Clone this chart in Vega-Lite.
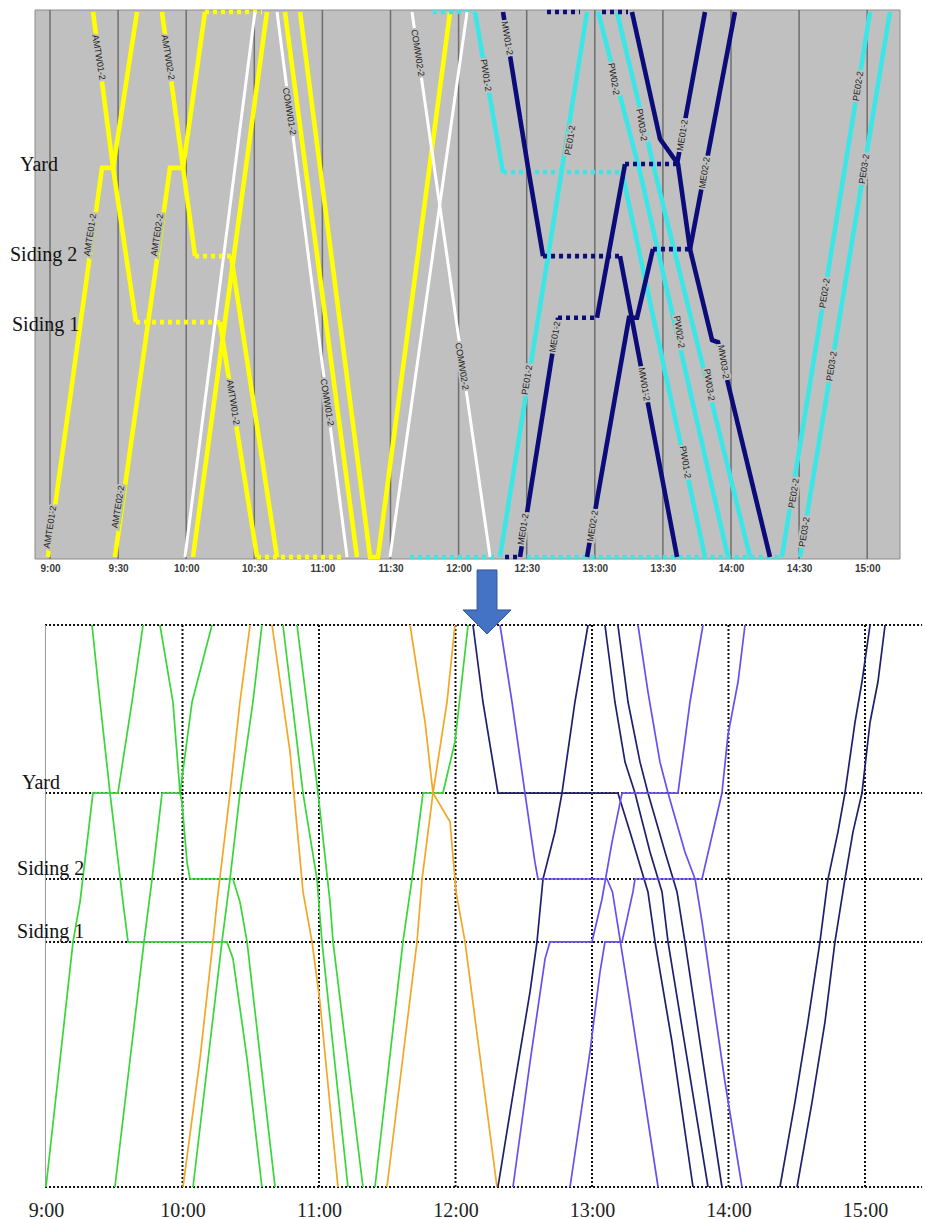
{
  "$schema": "https://vega.github.io/schema/vega-lite/v6.json",
  "padding": {"left": 0, "top": 2, "right": 0, "bottom": 0},
  "bounds": "flush",
  "spacing": 66,
  "background": "white",
  "config": {"view": {"stroke": null}},
  "resolve": {"scale": {"x": "independent", "y": "independent", "color": "independent", "strokeDash": "independent"}},
  "datasets": {
    "top": [
      {"id":"a1","g":"AMT","s":"run","t":8.985,"v":0},{"id":"a1","g":"AMT","s":"run","t":9.382,"v":71.4},{"id":"a1","g":"AMT","s":"run","t":9.463,"v":71.4},{"id":"a1","g":"AMT","s":"run","t":9.639,"v":100},
      {"id":"a2","g":"AMT","s":"run","t":9.477,"v":0},{"id":"a2","g":"AMT","s":"run","t":9.881,"v":71.4},{"id":"a2","g":"AMT","s":"run","t":9.977,"v":71.4},{"id":"a2","g":"AMT","s":"run","t":10.138,"v":100},
      {"id":"a2d","g":"AMT","s":"dwell","t":10.138,"v":100},{"id":"a2d","g":"AMT","s":"dwell","t":10.557,"v":100},
      {"id":"a3a","g":"AMT","s":"run","t":9.316,"v":100},{"id":"a3a","g":"AMT","s":"run","t":9.463,"v":71.4},{"id":"a3a","g":"AMT","s":"run","t":9.631,"v":43.1},
      {"id":"a3b","g":"AMT","s":"dwell","t":9.631,"v":43.1},{"id":"a3b","g":"AMT","s":"dwell","t":10.248,"v":43.1},
      {"id":"a3c","g":"AMT","s":"run","t":10.248,"v":43.1},{"id":"a3c","g":"AMT","s":"run","t":10.520,"v":0},
      {"id":"a3d","g":"AMT","s":"dwell","t":10.520,"v":0},{"id":"a3d","g":"AMT","s":"dwell","t":11.151,"v":0},
      {"id":"a4a","g":"AMT","s":"run","t":9.822,"v":100},{"id":"a4a","g":"AMT","s":"run","t":9.977,"v":71.4},{"id":"a4a","g":"AMT","s":"run","t":10.065,"v":55.2},
      {"id":"a4b","g":"AMT","s":"dwell","t":10.065,"v":55.2},{"id":"a4b","g":"AMT","s":"dwell","t":10.330,"v":55.2},
      {"id":"a4c","g":"AMT","s":"run","t":10.330,"v":55.2},{"id":"a4c","g":"AMT","s":"run","t":10.667,"v":0},
      {"id":"a5","g":"AMT","s":"run","t":10.050,"v":0},{"id":"a5","g":"AMT","s":"run","t":10.593,"v":100},
      {"id":"a6","g":"AMT","s":"run","t":10.725,"v":100},{"id":"a6","g":"AMT","s":"run","t":11.254,"v":0},
      {"id":"a7","g":"AMT","s":"run","t":10.836,"v":100},{"id":"a7","g":"AMT","s":"run","t":11.350,"v":0},{"id":"a7","g":"AMT","s":"run","t":11.408,"v":0},{"id":"a7","g":"AMT","s":"run","t":11.937,"v":100},
      {"id":"c1","g":"COM","s":"run","t":9.991,"v":0},{"id":"c1","g":"COM","s":"run","t":10.505,"v":100},
      {"id":"c2","g":"COM","s":"run","t":10.667,"v":100},{"id":"c2","g":"COM","s":"run","t":11.181,"v":0},
      {"id":"c3","g":"COM","s":"run","t":11.496,"v":0},{"id":"c3","g":"COM","s":"run","t":12.062,"v":100},
      {"id":"c4","g":"COM","s":"run","t":11.658,"v":100},{"id":"c4","g":"COM","s":"run","t":12.231,"v":0},
      {"id":"p7","g":"P","s":"dwell","t":12.500,"v":0},{"id":"p7","g":"P","s":"dwell","t":14.374,"v":0},
      {"id":"p1a","g":"P","s":"dwell","t":11.812,"v":100},{"id":"p1a","g":"P","s":"dwell","t":12.120,"v":100},
      {"id":"p1b","g":"P","s":"run","t":12.120,"v":100},{"id":"p1b","g":"P","s":"run","t":12.326,"v":70.6},
      {"id":"p1c","g":"P","s":"dwell","t":12.326,"v":70.6},{"id":"p1c","g":"P","s":"dwell","t":13.200,"v":70.6},
      {"id":"p1d","g":"P","s":"run","t":13.200,"v":70.6},{"id":"p1d","g":"P","s":"run","t":13.809,"v":0},
      {"id":"p2a","g":"P","s":"dwell","t":11.643,"v":0},{"id":"p2a","g":"P","s":"dwell","t":12.267,"v":0},
      {"id":"p2b","g":"P","s":"run","t":12.304,"v":0},{"id":"p2b","g":"P","s":"run","t":12.943,"v":100},
      {"id":"p3","g":"P","s":"run","t":13.024,"v":100},{"id":"p3","g":"P","s":"run","t":13.332,"v":70.6},{"id":"p3","g":"P","s":"run","t":13.978,"v":0},
      {"id":"p4","g":"P","s":"run","t":13.163,"v":100},{"id":"p4","g":"P","s":"run","t":13.442,"v":70.6},{"id":"p4","g":"P","s":"run","t":14.140,"v":0},
      {"id":"p5","g":"P","s":"run","t":14.374,"v":0},{"id":"p5","g":"P","s":"run","t":15.021,"v":100},
      {"id":"p6","g":"P","s":"run","t":14.507,"v":0},{"id":"p6","g":"P","s":"run","t":15.167,"v":100},
      {"id":"m1a","g":"M","s":"run","t":12.326,"v":100},{"id":"m1a","g":"M","s":"run","t":12.510,"v":71.4},{"id":"m1a","g":"M","s":"run","t":12.620,"v":55.2},
      {"id":"m1b","g":"M","s":"dwell","t":12.620,"v":55.2},{"id":"m1b","g":"M","s":"dwell","t":13.185,"v":55.2},
      {"id":"m1c","g":"M","s":"run","t":13.185,"v":55.2},{"id":"m1c","g":"M","s":"run","t":13.604,"v":0},
      {"id":"m2a","g":"M","s":"dwell","t":12.341,"v":0},{"id":"m2a","g":"M","s":"dwell","t":12.451,"v":0},
      {"id":"m2b","g":"M","s":"run","t":12.451,"v":0},{"id":"m2b","g":"M","s":"run","t":12.730,"v":43.9},
      {"id":"m2c","g":"M","s":"dwell","t":12.730,"v":43.9},{"id":"m2c","g":"M","s":"dwell","t":13.016,"v":43.9},
      {"id":"m2d","g":"M","s":"run","t":13.016,"v":43.9},{"id":"m2d","g":"M","s":"run","t":13.222,"v":72.1},
      {"id":"m2e","g":"M","s":"dwell","t":13.222,"v":72.1},{"id":"m2e","g":"M","s":"dwell","t":13.604,"v":72.1},
      {"id":"m2f","g":"M","s":"run","t":13.604,"v":72.1},{"id":"m2f","g":"M","s":"run","t":13.809,"v":100},
      {"id":"m3a","g":"M","s":"run","t":12.943,"v":0},{"id":"m3a","g":"M","s":"run","t":13.251,"v":43.9},{"id":"m3a","g":"M","s":"run","t":13.310,"v":43.9},{"id":"m3a","g":"M","s":"run","t":13.427,"v":56.5},
      {"id":"m3b","g":"M","s":"dwell","t":13.427,"v":56.5},{"id":"m3b","g":"M","s":"dwell","t":13.699,"v":56.5},
      {"id":"m3c","g":"M","s":"run","t":13.699,"v":56.5},{"id":"m3c","g":"M","s":"run","t":14.029,"v":100},
      {"id":"m4","g":"M","s":"run","t":13.273,"v":100},{"id":"m4","g":"M","s":"run","t":13.479,"v":76.7},{"id":"m4","g":"M","s":"run","t":13.611,"v":72.1},{"id":"m4","g":"M","s":"run","t":13.699,"v":56.5},{"id":"m4","g":"M","s":"run","t":13.861,"v":39.8},{"id":"m4","g":"M","s":"run","t":13.905,"v":39.4},{"id":"m4","g":"M","s":"run","t":14.286,"v":0},
      {"id":"m5","g":"M","s":"dwell","t":12.649,"v":100},{"id":"m5","g":"M","s":"dwell","t":12.891,"v":100},
      {"id":"m6","g":"M","s":"dwell","t":13.053,"v":100},{"id":"m6","g":"M","s":"dwell","t":13.244,"v":100}
    ],
    "lab": [
      {"name":"AMTE01-2","d":"up","t":9.000,"v":5.5},{"name":"AMTE01-2","d":"up","t":9.294,"v":59.1},
      {"name":"AMTE02-2","d":"up","t":9.499,"v":9.2},{"name":"AMTE02-2","d":"up","t":9.786,"v":59.1},
      {"name":"PE01-2","d":"up","t":12.502,"v":32.5},{"name":"PE01-2","d":"up","t":12.818,"v":76.5},
      {"name":"ME01-2","d":"up","t":12.473,"v":5.1},{"name":"ME01-2","d":"up","t":12.706,"v":40.4},{"name":"ME01-2","d":"up","t":13.643,"v":77.4},
      {"name":"ME02-2","d":"up","t":12.983,"v":5.7},{"name":"ME02-2","d":"up","t":13.805,"v":70.5},
      {"name":"PE02-2","d":"up","t":14.46,"v":11.7},{"name":"PE02-2","d":"up","t":14.687,"v":48.4},{"name":"PE02-2","d":"up","t":14.933,"v":86.4},
      {"name":"PE03-2","d":"up","t":14.537,"v":4.6},{"name":"PE03-2","d":"up","t":14.738,"v":35.0},{"name":"PE03-2","d":"up","t":14.977,"v":71.2},
      {"name":"AMTW01-2","d":"down","t":9.359,"v":91.7},{"name":"AMTW01-2","d":"down","t":10.345,"v":28.4},
      {"name":"AMTW02-2","d":"down","t":9.867,"v":91.7},
      {"name":"COMW01-2","d":"down","t":10.758,"v":81.8},{"name":"COMW01-2","d":"down","t":11.035,"v":28.4},
      {"name":"COMW02-2","d":"down","t":11.701,"v":92.5},{"name":"COMW02-2","d":"down","t":12.025,"v":35.0},
      {"name":"MW01-2","d":"down","t":12.357,"v":95.2},{"name":"MW01-2","d":"down","t":13.363,"v":31.7},
      {"name":"PW01-2","d":"down","t":12.201,"v":88.4},{"name":"PW01-2","d":"down","t":13.665,"v":17.4},
      {"name":"PW02-2","d":"down","t":13.14,"v":87.7},{"name":"PW02-2","d":"down","t":13.62,"v":41.3},
      {"name":"PW03-2","d":"down","t":13.345,"v":79.3},{"name":"PW03-2","d":"down","t":13.84,"v":31.6},
      {"name":"MW03-2","d":"down","t":13.945,"v":35.8}
    ],
    "st1": [{"name":"Yard","t":8.78,"v":72.0},{"name":"Siding 2","t":8.706,"v":55.4},{"name":"Siding 1","t":8.721,"v":42.6}],
    "st2": [{"name":"Yard","t":8.824,"v":70.1},{"name":"Siding 2","t":8.788,"v":54.8},{"name":"Siding 1","t":8.788,"v":43.6}],
    "grid1": [{"t":9},{"t":9.5},{"t":10},{"t":10.5},{"t":11},{"t":11.5},{"t":12},{"t":12.5},{"t":13},{"t":13.5},{"t":14},{"t":14.5},{"t":15}],
    "vgrid2": [{"t":10},{"t":11},{"t":12},{"t":13},{"t":14},{"t":15}],
    "hgrid2": [{"v":0},{"v":43.6},{"v":54.8},{"v":70.1},{"v":100}],
    "bot": [
      {"id":"g1","g":"AMT","t":9.337,"v":100},{"id":"g1","g":"AMT","t":9.396,"v":86.3},{"id":"g1","g":"AMT","t":9.469,"v":70.1},{"id":"g1","g":"AMT","t":9.564,"v":50.7},{"id":"g1","g":"AMT","t":9.601,"v":43.6},{"id":"g1","g":"AMT","t":10.326,"v":43.6},{"id":"g1","g":"AMT","t":10.370,"v":40.6},{"id":"g1","g":"AMT","t":10.473,"v":22.8},{"id":"g1","g":"AMT","t":10.582,"v":0},
      {"id":"g2","g":"AMT","t":9.000,"v":0},{"id":"g2","g":"AMT","t":9.198,"v":43.6},{"id":"g2","g":"AMT","t":9.249,"v":50.7},{"id":"g2","g":"AMT","t":9.344,"v":70.1},{"id":"g2","g":"AMT","t":9.527,"v":70.1},{"id":"g2","g":"AMT","t":9.630,"v":86.3},{"id":"g2","g":"AMT","t":9.711,"v":100},
      {"id":"g3","g":"AMT","t":9.505,"v":0},{"id":"g3","g":"AMT","t":9.718,"v":43.6},{"id":"g3","g":"AMT","t":9.777,"v":54.8},{"id":"g3","g":"AMT","t":9.850,"v":70.1},{"id":"g3","g":"AMT","t":9.982,"v":70.1},{"id":"g3","g":"AMT","t":10.070,"v":86.3},{"id":"g3","g":"AMT","t":10.216,"v":100},
      {"id":"g4","g":"AMT","t":9.835,"v":100},{"id":"g4","g":"AMT","t":9.930,"v":86.3},{"id":"g4","g":"AMT","t":9.982,"v":70.1},{"id":"g4","g":"AMT","t":9.996,"v":68.5},{"id":"g4","g":"AMT","t":10.033,"v":57.8},{"id":"g4","g":"AMT","t":10.055,"v":54.8},{"id":"g4","g":"AMT","t":10.370,"v":54.8},{"id":"g4","g":"AMT","t":10.421,"v":50.7},{"id":"g4","g":"AMT","t":10.473,"v":43.6},{"id":"g4","g":"AMT","t":10.678,"v":0},
      {"id":"g5","g":"AMT","t":10.077,"v":0},{"id":"g5","g":"AMT","t":10.289,"v":43.6},{"id":"g5","g":"AMT","t":10.348,"v":54.8},{"id":"g5","g":"AMT","t":10.421,"v":70.1},{"id":"g5","g":"AMT","t":10.516,"v":86.3},{"id":"g5","g":"AMT","t":10.582,"v":100},
      {"id":"g6","g":"AMT","t":10.736,"v":100},{"id":"g6","g":"AMT","t":10.883,"v":70.1},{"id":"g6","g":"AMT","t":10.985,"v":54.8},{"id":"g6","g":"AMT","t":11.022,"v":43.6},{"id":"g6","g":"AMT","t":11.212,"v":0},
      {"id":"g7","g":"AMT","t":10.839,"v":100},{"id":"g7","g":"AMT","t":10.993,"v":70.1},{"id":"g7","g":"AMT","t":11.081,"v":50.7},{"id":"g7","g":"AMT","t":11.103,"v":43.6},{"id":"g7","g":"AMT","t":11.322,"v":0},
      {"id":"g8","g":"AMT","t":11.410,"v":0},{"id":"g8","g":"AMT","t":11.615,"v":43.6},{"id":"g8","g":"AMT","t":11.681,"v":54.8},{"id":"g8","g":"AMT","t":11.762,"v":70.1},{"id":"g8","g":"AMT","t":11.908,"v":70.1},{"id":"g8","g":"AMT","t":11.996,"v":79.2},{"id":"g8","g":"AMT","t":12.092,"v":100},
      {"id":"o1","g":"COM","t":10.004,"v":0},{"id":"o1","g":"COM","t":10.128,"v":22.8},{"id":"o1","g":"COM","t":10.223,"v":43.6},{"id":"o1","g":"COM","t":10.253,"v":50.7},{"id":"o1","g":"COM","t":10.348,"v":70.1},{"id":"o1","g":"COM","t":10.421,"v":86.3},{"id":"o1","g":"COM","t":10.495,"v":100},
      {"id":"o2","g":"COM","t":10.656,"v":100},{"id":"o2","g":"COM","t":10.788,"v":77.4},{"id":"o2","g":"COM","t":10.883,"v":52.5},{"id":"o2","g":"COM","t":10.949,"v":43.6},{"id":"o2","g":"COM","t":11.007,"v":32.9},{"id":"o2","g":"COM","t":11.139,"v":0},
      {"id":"o3","g":"COM","t":11.498,"v":0},{"id":"o3","g":"COM","t":11.718,"v":43.6},{"id":"o3","g":"COM","t":11.755,"v":54.8},{"id":"o3","g":"COM","t":11.835,"v":70.1},{"id":"o3","g":"COM","t":11.938,"v":86.3},{"id":"o3","g":"COM","t":11.996,"v":100},
      {"id":"o4","g":"COM","t":11.667,"v":100},{"id":"o4","g":"COM","t":11.777,"v":82.7},{"id":"o4","g":"COM","t":11.835,"v":70.1},{"id":"o4","g":"COM","t":11.960,"v":65.0},{"id":"o4","g":"COM","t":12.004,"v":52.5},{"id":"o4","g":"COM","t":12.070,"v":43.6},{"id":"o4","g":"COM","t":12.304,"v":0},
      {"id":"n1","g":"P","t":12.128,"v":100},{"id":"n1","g":"P","t":12.201,"v":86.3},{"id":"n1","g":"P","t":12.311,"v":70.1},{"id":"n1","g":"P","t":13.190,"v":70.1},{"id":"n1","g":"P","t":13.278,"v":63.2},{"id":"n1","g":"P","t":13.410,"v":52.5},{"id":"n1","g":"P","t":13.462,"v":43.6},{"id":"n1","g":"P","t":13.586,"v":25.8},{"id":"n1","g":"P","t":13.740,"v":0},
      {"id":"n2","g":"P","t":12.311,"v":0},{"id":"n2","g":"P","t":12.436,"v":18.7},{"id":"n2","g":"P","t":12.546,"v":34.7},{"id":"n2","g":"P","t":12.597,"v":43.6},{"id":"n2","g":"P","t":12.641,"v":54.8},{"id":"n2","g":"P","t":12.729,"v":63.2},{"id":"n2","g":"P","t":12.780,"v":70.1},{"id":"n2","g":"P","t":12.875,"v":86.3},{"id":"n2","g":"P","t":12.971,"v":100},
      {"id":"n3","g":"P","t":13.095,"v":100},{"id":"n3","g":"P","t":13.168,"v":86.3},{"id":"n3","g":"P","t":13.242,"v":75.6},{"id":"n3","g":"P","t":13.315,"v":70.1},{"id":"n3","g":"P","t":13.425,"v":59.6},{"id":"n3","g":"P","t":13.513,"v":52.5},{"id":"n3","g":"P","t":13.557,"v":43.6},{"id":"n3","g":"P","t":13.689,"v":24.0},{"id":"n3","g":"P","t":13.850,"v":0},
      {"id":"n4","g":"P","t":13.190,"v":100},{"id":"n4","g":"P","t":13.264,"v":86.3},{"id":"n4","g":"P","t":13.352,"v":75.6},{"id":"n4","g":"P","t":13.410,"v":70.1},{"id":"n4","g":"P","t":13.535,"v":59.6},{"id":"n4","g":"P","t":13.623,"v":52.5},{"id":"n4","g":"P","t":13.681,"v":43.6},{"id":"n4","g":"P","t":13.791,"v":25.8},{"id":"n4","g":"P","t":13.952,"v":0},
      {"id":"n5","g":"P","t":14.377,"v":0},{"id":"n5","g":"P","t":14.487,"v":15.1},{"id":"n5","g":"P","t":14.582,"v":29.4},{"id":"n5","g":"P","t":14.670,"v":43.6},{"id":"n5","g":"P","t":14.729,"v":54.8},{"id":"n5","g":"P","t":14.802,"v":63.2},{"id":"n5","g":"P","t":14.853,"v":70.1},{"id":"n5","g":"P","t":14.927,"v":82.7},{"id":"n5","g":"P","t":14.978,"v":89.9},{"id":"n5","g":"P","t":15.037,"v":100},
      {"id":"n6","g":"P","t":14.502,"v":0},{"id":"n6","g":"P","t":14.612,"v":15.1},{"id":"n6","g":"P","t":14.707,"v":29.4},{"id":"n6","g":"P","t":14.780,"v":43.6},{"id":"n6","g":"P","t":14.853,"v":54.8},{"id":"n6","g":"P","t":14.912,"v":63.2},{"id":"n6","g":"P","t":14.978,"v":70.1},{"id":"n6","g":"P","t":15.037,"v":82.7},{"id":"n6","g":"P","t":15.095,"v":89.9},{"id":"n6","g":"P","t":15.147,"v":100},
      {"id":"m1","g":"M","t":12.326,"v":100},{"id":"m1","g":"M","t":12.414,"v":86.3},{"id":"m1","g":"M","t":12.509,"v":70.1},{"id":"m1","g":"M","t":12.582,"v":57.8},{"id":"m1","g":"M","t":12.604,"v":54.8},{"id":"m1","g":"M","t":13.110,"v":54.8},{"id":"m1","g":"M","t":13.150,"v":52.5},{"id":"m1","g":"M","t":13.278,"v":32.9},{"id":"m1","g":"M","t":13.484,"v":0},
      {"id":"m2","g":"M","t":12.421,"v":0},{"id":"m2","g":"M","t":12.546,"v":22.2},{"id":"m2","g":"M","t":12.656,"v":40.6},{"id":"m2","g":"M","t":12.692,"v":43.6},{"id":"m2","g":"M","t":13.000,"v":43.6},{"id":"m2","g":"M","t":13.073,"v":51.2},{"id":"m2","g":"M","t":13.147,"v":61.4},{"id":"m2","g":"M","t":13.220,"v":70.1},{"id":"m2","g":"M","t":13.630,"v":70.1},{"id":"m2","g":"M","t":13.718,"v":86.3},{"id":"m2","g":"M","t":13.813,"v":100},
      {"id":"m3","g":"M","t":12.839,"v":0},{"id":"m3","g":"M","t":12.985,"v":24.0},{"id":"m3","g":"M","t":13.059,"v":38.3},{"id":"m3","g":"M","t":13.095,"v":43.6},{"id":"m3","g":"M","t":13.220,"v":43.6},{"id":"m3","g":"M","t":13.300,"v":52.5},{"id":"m3","g":"M","t":13.315,"v":54.8},{"id":"m3","g":"M","t":13.806,"v":54.8},{"id":"m3","g":"M","t":13.952,"v":70.1},{"id":"m3","g":"M","t":13.996,"v":80.4},{"id":"m3","g":"M","t":14.070,"v":89.9},{"id":"m3","g":"M","t":14.121,"v":100},
      {"id":"m4","g":"M","t":13.337,"v":100},{"id":"m4","g":"M","t":13.410,"v":88.1},{"id":"m4","g":"M","t":13.498,"v":75.6},{"id":"m4","g":"M","t":13.557,"v":70.1},{"id":"m4","g":"M","t":13.681,"v":59.6},{"id":"m4","g":"M","t":13.755,"v":54.8},{"id":"m4","g":"M","t":13.806,"v":47.2},{"id":"m4","g":"M","t":13.879,"v":34.7},{"id":"m4","g":"M","t":13.974,"v":18.7},{"id":"m4","g":"M","t":14.099,"v":0}
    ],
    "arrow": [{"t":12.231,"v":104.1}]
  },
  "vconcat": [
    {
      "width": 925,
      "height": 549,
      "layer": [
        {
          "data": {"values": [{"t": 8.890, "t2": 15.241, "v": -0.367, "v2": 100.367}]},
          "mark": {"type": "rect", "fill": "#c0c0c0", "stroke": "#8c8c8c", "strokeWidth": 1},
          "encoding": {
            "x": {"field": "t", "type": "quantitative", "scale": {"domain": [8.6329, 15.4244], "nice": false, "zero": false},
                  "axis": {"values": [9, 9.5, 10, 10.5, 11, 11.5, 12, 12.5, 13, 13.5, 14, 14.5, 15], "labelExpr": "floor(datum.value) + ':' + (datum.value % 1 ? '30' : '00')", "grid": false, "domain": false, "ticks": false, "labelFont": "Liberation Sans", "labelFontSize": 10, "labelFontWeight": "bold", "labelColor": "#3a3a3a", "labelPadding": 4, "labelFlush": false, "labelOverlap": false, "title": null}},
            "x2": {"field": "t2"},
            "y": {"field": "v", "type": "quantitative", "scale": {"domain": [-0.367, 100.367], "nice": false, "zero": false}, "axis": null},
            "y2": {"field": "v2"}
          }
        },
        {
          "data": {"name": "grid1"},
          "mark": {"type": "rule", "color": "#6e6e6e", "strokeWidth": 1.5},
          "encoding": {
            "x": {"field": "t", "type": "quantitative", "scale": {"domain": [8.6329, 15.4244], "nice": false, "zero": false}}
          }
        },
        {
          "data": {"name": "top"},
          "transform": [{"filter": "datum.g != 'COM'"}],
          "mark": {"type": "line", "strokeWidth": 4.6, "strokeCap": "butt"},
          "encoding": {
            "x": {"field": "t", "type": "quantitative", "scale": {"domain": [8.6329, 15.4244], "nice": false, "zero": false}},
            "y": {"field": "v", "type": "quantitative", "scale": {"domain": [-0.367, 100.367], "nice": false, "zero": false}, "axis": null},
            "detail": {"field": "id"},
            "color": {"field": "g", "type": "nominal", "scale": {"domain": ["AMT", "COM", "P", "M"], "range": ["#ffff00", "#ffffff", "#3ce6e6", "#0b0b7a"]}, "legend": null},
            "strokeDash": {"field": "s", "type": "nominal", "scale": {"domain": ["run", "dwell"], "range": [[1, 0], [4, 4]]}, "legend": null}
          }
        },
        {
          "data": {"name": "top"},
          "transform": [{"filter": "datum.g == 'COM'"}],
          "mark": {"type": "line", "strokeWidth": 3, "strokeCap": "butt"},
          "encoding": {
            "x": {"field": "t", "type": "quantitative", "scale": {"domain": [8.6329, 15.4244], "nice": false, "zero": false}},
            "y": {"field": "v", "type": "quantitative", "scale": {"domain": [-0.367, 100.367], "nice": false, "zero": false}, "axis": null},
            "detail": {"field": "id"},
            "color": {"field": "g", "type": "nominal", "scale": {"domain": ["AMT", "COM", "P", "M"], "range": ["#ffff00", "#ffffff", "#3ce6e6", "#0b0b7a"]}, "legend": null},
            "strokeDash": {"field": "s", "type": "nominal", "scale": {"domain": ["run", "dwell"], "range": [[1, 0], [4, 4]]}, "legend": null}
          }
        },
        {
          "data": {"name": "lab"},
          "transform": [{"filter": "datum.d == 'up'"}],
          "mark": {"type": "text", "angle": 279, "font": "Liberation Sans", "fontSize": 9, "fill": "#c0c0c0", "stroke": "#c0c0c0", "strokeWidth": 4},
          "encoding": {
            "x": {"field": "t", "type": "quantitative", "scale": {"domain": [8.6329, 15.4244], "nice": false, "zero": false}},
            "y": {"field": "v", "type": "quantitative", "scale": {"domain": [-0.367, 100.367], "nice": false, "zero": false}, "axis": null},
            "text": {"field": "name"}
          }
        },
        {
          "data": {"name": "lab"},
          "transform": [{"filter": "datum.d == 'down'"}],
          "mark": {"type": "text", "angle": 81, "font": "Liberation Sans", "fontSize": 9, "fill": "#c0c0c0", "stroke": "#c0c0c0", "strokeWidth": 4},
          "encoding": {
            "x": {"field": "t", "type": "quantitative", "scale": {"domain": [8.6329, 15.4244], "nice": false, "zero": false}},
            "y": {"field": "v", "type": "quantitative", "scale": {"domain": [-0.367, 100.367], "nice": false, "zero": false}, "axis": null},
            "text": {"field": "name"}
          }
        },
        {
          "data": {"name": "lab"},
          "transform": [{"filter": "datum.d == 'up'"}],
          "mark": {"type": "text", "angle": 279, "font": "Liberation Sans", "fontSize": 9, "color": "#222222"},
          "encoding": {
            "x": {"field": "t", "type": "quantitative", "scale": {"domain": [8.6329, 15.4244], "nice": false, "zero": false}},
            "y": {"field": "v", "type": "quantitative", "scale": {"domain": [-0.367, 100.367], "nice": false, "zero": false}, "axis": null},
            "text": {"field": "name"}
          }
        },
        {
          "data": {"name": "lab"},
          "transform": [{"filter": "datum.d == 'down'"}],
          "mark": {"type": "text", "angle": 81, "font": "Liberation Sans", "fontSize": 9, "color": "#222222"},
          "encoding": {
            "x": {"field": "t", "type": "quantitative", "scale": {"domain": [8.6329, 15.4244], "nice": false, "zero": false}},
            "y": {"field": "v", "type": "quantitative", "scale": {"domain": [-0.367, 100.367], "nice": false, "zero": false}, "axis": null},
            "text": {"field": "name"}
          }
        },
        {
          "data": {"name": "st1"},
          "mark": {"type": "text", "align": "left", "baseline": "middle", "font": "Liberation Serif", "fontSize": 20, "color": "#111111"},
          "encoding": {
            "x": {"field": "t", "type": "quantitative", "scale": {"domain": [8.6329, 15.4244], "nice": false, "zero": false}},
            "y": {"field": "v", "type": "quantitative", "scale": {"domain": [-0.367, 100.367], "nice": false, "zero": false}, "axis": null},
            "text": {"field": "name"}
          }
        }
      ]
    },
    {
      "width": 925,
      "height": 562,
      "layer": [
        {
          "data": {"name": "vgrid2"},
          "mark": {"type": "rule", "color": "#111111", "strokeWidth": 2, "strokeDash": [2, 2]},
          "encoding": {
            "x": {"field": "t", "type": "quantitative", "scale": {"domain": [8.663, 15.4396], "nice": false, "zero": false},
                  "axis": {"values": [9, 10, 11, 12, 13, 14, 15], "labelExpr": "floor(datum.value) + ':00'", "grid": false, "domain": false, "ticks": false, "labelFont": "Liberation Serif", "labelFontSize": 20, "labelColor": "#222222", "labelPadding": 13, "labelFlush": false, "labelOverlap": false, "title": null}}
          }
        },
        {
          "data": {"name": "hgrid2"},
          "mark": {"type": "rule", "color": "#111111", "strokeWidth": 2, "strokeDash": [2, 2]},
          "encoding": {
            "x": {"datum": 8.993, "type": "quantitative", "scale": {"domain": [8.663, 15.4396], "nice": false, "zero": false}},
            "x2": {"datum": 15.418},
            "y": {"field": "v", "type": "quantitative", "scale": {"domain": [0, 100], "nice": false, "zero": false}, "axis": null}
          }
        },
        {
          "data": {"values": [{"t": 8.996}]},
          "mark": {"type": "rule", "color": "#9a9a9a", "strokeWidth": 1},
          "encoding": {
            "x": {"field": "t", "type": "quantitative", "scale": {"domain": [8.663, 15.4396], "nice": false, "zero": false}}
          }
        },
        {
          "data": {"name": "bot"},
          "mark": {"type": "line", "strokeWidth": 1.7},
          "encoding": {
            "x": {"field": "t", "type": "quantitative", "scale": {"domain": [8.663, 15.4396], "nice": false, "zero": false}},
            "y": {"field": "v", "type": "quantitative", "scale": {"domain": [0, 100], "nice": false, "zero": false}, "axis": null},
            "detail": {"field": "id"},
            "color": {"field": "g", "type": "nominal", "scale": {"domain": ["AMT", "COM", "P", "M"], "range": ["#36d836", "#f5a623", "#1f1f6e", "#6a4ef0"]}, "legend": null}
          }
        },
        {
          "data": {"name": "st2"},
          "mark": {"type": "text", "align": "left", "baseline": "alphabetic", "dy": -4, "font": "Liberation Serif", "fontSize": 20, "color": "#111111"},
          "encoding": {
            "x": {"field": "t", "type": "quantitative", "scale": {"domain": [8.663, 15.4396], "nice": false, "zero": false}},
            "y": {"field": "v", "type": "quantitative", "scale": {"domain": [0, 100], "nice": false, "zero": false}, "axis": null},
            "text": {"field": "name"}
          }
        },
        {
          "data": {"name": "arrow"},
          "mark": {"type": "point", "shape": "M-0.31,-1L0.31,-1L0.31,0.25L0.75,0.25L0,1L-0.75,0.25L-0.31,0.25Z", "size": 4096, "filled": true, "color": "#4472c4", "stroke": "#2f5597", "strokeWidth": 1, "opacity": 1},
          "encoding": {
            "x": {"field": "t", "type": "quantitative", "scale": {"domain": [8.663, 15.4396], "nice": false, "zero": false}},
            "y": {"field": "v", "type": "quantitative", "scale": {"domain": [0, 100], "nice": false, "zero": false}, "axis": null}
          }
        }
      ]
    }
  ]
}
